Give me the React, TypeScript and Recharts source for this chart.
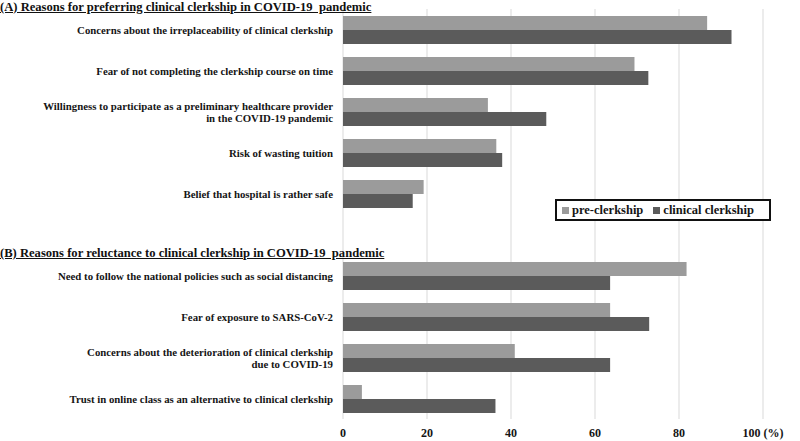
import { Bar, BarChart, CartesianGrid, Legend, XAxis, YAxis } from "recharts";

const reasons = [
    "Concerns about the irreplaceability of clinical clerkship",
    "Fear of not completing  the clerkship course on time",
    "Willingness to participate as a preliminary healthcare provider\nin the COVID-19 pandemic",
    "Risk of wasting tuition",
    "Belief that hospital is rather safe",
    "",
    "Need to follow the national policies such as social distancing",
    "Fear of exposure to SARS-CoV-2",
    "Concerns about the deterioration of clinical clerkship\ndue to COVID-19",
    "Trust in online class as an alternative to clinical clerkship",
];
const preClerkship = [86.7, 69.4, 34.5, 36.5, 19.2, null, 81.8, 63.6, 40.9, 4.5];
const clinicalClerkship = [92.5, 72.7, 48.4, 37.9, 16.6, null, 63.6, 72.9, 63.6, 36.3];
const xTicks = [0, 20, 40, 60, 80, 100];

const headingA = "(A) Reasons for preferring clinical clerkship in COVID-19  pandemic";
const headingB = "(B) Reasons for reluctance to clinical clerkship in COVID-19  pandemic";

const serif = "'Liberation Serif', 'Times New Roman', serif";
const PRE = "#9b9b9b";
const CLIN = "#5b5b5b";

const data = reasons.map((r, i) => ({
    reason: r,
    pre: preClerkship[i],
    clinical: clinicalClerkship[i],
}));

function ReasonTick({ x, y, payload }: any) {
    const lines = String(payload.value).split("\n");
    if (!lines[0]) return null;
    const start = -((lines.length - 1) * 12) / 2;
    return (
        <text x={x - 2} y={y} textAnchor="end" fontFamily={serif} fontWeight="bold" fontSize={10.8} fill="#151515">
            {lines.map((l, i) => (
                <tspan key={i} x={x - 2} dy={i === 0 ? start + 4 : 12}>
                    {l}
                </tspan>
            ))}
        </text>
    );
}

function PercentTick({ x, y, payload }: any) {
    return (
        <text x={x} y={y + 10} textAnchor="middle" fontFamily={serif} fontWeight="bold" fontSize={12} fill="#151515">
            {payload.value}
            {payload.value === 100 && <tspan dx={3}>(%)</tspan>}
        </text>
    );
}

function LegendBox() {
    const item = (color: string, label: string) => (
        <span style={{ display: "inline-flex", alignItems: "center", marginRight: 10 }}>
            <span style={{ width: 7, height: 7, background: color, marginRight: 3, display: "inline-block" }} />
            {label}
        </span>
    );
    return (
        <div
            style={{
                border: "2px solid #111",
                width: 212,
                height: 18,
                boxSizing: "content-box",
                display: "flex",
                alignItems: "center",
                justifyContent: "center",
                fontFamily: serif,
                fontWeight: "bold",
                fontSize: 12.5,
                color: "#151515",
                background: "#fff",
            }}
        >
            {item(PRE, "pre-clerkship")}
            {item(CLIN, "clinical clerkship")}
        </div>
    );
}

const headingStyle: React.CSSProperties = {
    position: "absolute",
    left: 0,
    fontFamily: serif,
    fontWeight: "bold",
    fontSize: 12.6,
    textDecoration: "underline",
    color: "#111",
    whiteSpace: "pre",
    lineHeight: "14px",
};

export default function App() {
    return (
        <div style={{ position: "absolute", left: 0, top: 0, width: 800, height: 441, background: "#fff" }}>
            <BarChart
                width={800}
                height={441}
                data={data}
                layout="vertical"
                margin={{ top: 9, right: 37, left: 0, bottom: 0 }}
                barGap={0}
            >
                <CartesianGrid horizontal={false} stroke="#d9d9d9" />
                <XAxis
                    type="number"
                    domain={[0, 100]}
                    ticks={xTicks}
                    axisLine={false}
                    tickLine={false}
                    height={22}
                    tick={<PercentTick />}
                />
                <YAxis
                    type="category"
                    dataKey="reason"
                    width={343}
                    axisLine={false}
                    tickLine={false}
                    interval={0}
                    tick={<ReasonTick />}
                />
                <Legend
                    layout="horizontal"
                    verticalAlign="middle"
                    align="center"
                    content={<LegendBox />}
                    wrapperStyle={{ position: "absolute", left: 555, top: 199, width: "auto" }}
                />
                <Bar dataKey="pre" name="pre-clerkship" fill={PRE} barSize={14} isAnimationActive={false} />
                <Bar dataKey="clinical" name="clinical clerkship" fill={CLIN} barSize={14} isAnimationActive={false} />
            </BarChart>
            <div style={{ ...headingStyle, top: 0 }}>{headingA}</div>
            <div style={{ ...headingStyle, top: 246 }}>{headingB}</div>
        </div>
    );
}
